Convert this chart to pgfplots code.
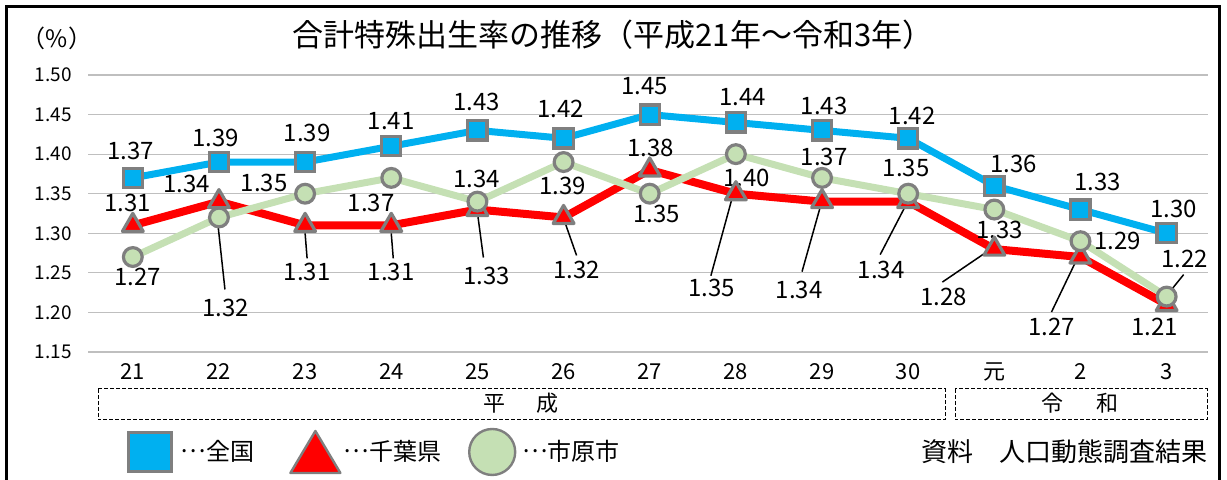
\documentclass[border=0pt]{standalone}
\usepackage{fontspec}
\setmainfont{Noto Sans CJK JP}
\usepackage{pgfplots}
\pgfplotsset{compat=1.18}

\definecolor{zenkoku}{HTML}{00B0F0}
\definecolor{chiba}{HTML}{FF0000}
\definecolor{ichihara}{HTML}{C5E0B4}
\definecolor{mk}{HTML}{7F7F7F}
\definecolor{gridc}{HTML}{BFBFBF}

% data label and leader line, offsets in pt from the data point
\newcommand{\lab}[5]{\node[lbl] at ([shift={(#3pt,#4pt)}]axis cs:#1,#2) {#5};}
\newcommand{\ldr}[6]{\draw[black,line width=0.75pt] ([shift={(#3pt,#4pt)}]axis cs:#1,#2) -- ([shift={(#5pt,#6pt)}]axis cs:#1,#2);}
\newcommand{\mdots}{\raisebox{0.32em}{…}}

\begin{document}
\begin{tikzpicture}
\useasboundingbox (-44pt,-64pt) rectangle (569.5pt,176pt);
\tikzset{lbl/.style={inner sep=0pt,font=\fontsize{12}{12}\selectfont}}
\begin{axis}[
  width=560pt, height=138.5pt, scale only axis,
  at={(0pt,0pt)}, anchor=south west,
  clip=false,
  xmin=-0.52, xmax=12.48, ymin=1.15, ymax=1.50,
  xtick={0,...,12},
  xticklabels={21,22,23,24,25,26,27,28,29,30,元,2,3},
  ytick={1.15,1.20,1.25,1.30,1.35,1.40,1.45,1.50},
  yticklabels={1.15,1.20,1.25,1.30,1.35,1.40,1.45,1.50},
  ymajorgrids, major grid style={gridc,line width=0.6pt},
  axis line style={draw=none}, major tick length=0pt,
  xticklabel style={font=\fontsize{11}{11}\selectfont,inner sep=0pt,anchor=base,yshift=-14pt},
  yticklabel style={font=\fontsize{9.5}{9.5}\selectfont,inner sep=0pt,anchor=east,xshift=-8pt},
  legend columns=3,
  legend style={at={(0.0348,-0.361)}, anchor=west, draw=none, fill=none,
    inner sep=0pt, font=\fontsize{12}{12}\selectfont,
    nodes={inner sep=0pt},
    /tikz/column 1/.style={column sep=4pt},
    /tikz/column 2/.style={column sep=17.5pt},
    /tikz/column 3/.style={column sep=1pt},
    /tikz/column 4/.style={column sep=13.5pt},
    /tikz/column 5/.style={column sep=3pt}},
]
\addplot[zenkoku, line width=3.5pt, mark=square*,
  mark options={draw=mk, fill=zenkoku, line width=1.6pt, solid}, mark size=4.8pt,
  legend image code/.code={\draw[fill=zenkoku,draw=mk,line width=1.2pt] (0pt,-9.75pt) rectangle (21.5pt,9.75pt);}]
  coordinates {(0,1.37)(1,1.39)(2,1.39)(3,1.41)(4,1.43)(5,1.42)(6,1.45)(7,1.44)(8,1.43)(9,1.42)(10,1.36)(11,1.33)(12,1.30)};
\addlegendentry{\mdots 全国}
\addplot[chiba, line width=4pt, mark=triangle*,
  mark options={draw=mk, fill=chiba, line width=1.6pt, line join=round, solid}, mark size=6pt,
  legend image code/.code={\draw[fill=chiba,draw=mk,line width=1.2pt,line join=round] (0pt,-10.5pt) -- (25pt,-10.5pt) -- (12.5pt,10.5pt) -- cycle;}]
  coordinates {(0,1.31)(1,1.34)(2,1.31)(3,1.31)(4,1.33)(5,1.32)(6,1.38)(7,1.35)(8,1.34)(9,1.34)(10,1.28)(11,1.27)(12,1.21)};
\addlegendentry{\mdots 千葉県}
\addplot[ichihara, line width=3.5pt, mark=*,
  mark options={draw=mk, fill=ichihara, line width=1.6pt, solid}, mark size=4.7pt,
  legend image code/.code={\draw[fill=ichihara,draw=mk,line width=1.2pt] (12pt,0pt) circle (11.5pt);}]
  coordinates {(0,1.27)(1,1.32)(2,1.35)(3,1.37)(4,1.34)(5,1.39)(6,1.35)(7,1.40)(8,1.37)(9,1.35)(10,1.33)(11,1.29)(12,1.22)};
\addlegendentry{\mdots 市原市}

% 全国
\lab{0}{1.37}{-1}{13.5}{1.37}
\lab{1}{1.39}{-1.5}{12}{1.39}
\lab{2}{1.39}{1}{14.5}{1.39}
\lab{3}{1.41}{0}{12.5}{1.41}
\lab{4}{1.43}{-0.5}{14}{1.43}
\lab{5}{1.42}{-1.5}{14.5}{1.42}
\lab{6}{1.45}{-2.5}{14}{1.45}
\lab{7}{1.44}{3.5}{12.5}{1.44}
\lab{8}{1.43}{1}{12}{1.43}
\lab{9}{1.42}{2}{11}{1.42}
\lab{10}{1.36}{9.5}{11}{1.36}
\lab{11}{1.33}{8.5}{14}{1.33}
\lab{12}{1.30}{3.5}{12}{1.30}
% 千葉県
\lab{0}{1.31}{-2.5}{11}{1.31}
\lab{1}{1.34}{-16}{9}{1.34}
\ldr{2}{1.31}{0}{-4}{1}{-16.5}\lab{2}{1.31}{1}{-23.5}{1.31}
\ldr{3}{1.31}{0}{-4}{1}{-16.5}\lab{3}{1.31}{0}{-23.5}{1.31}
\ldr{4}{1.33}{0}{-1.5}{3}{-24}\lab{4}{1.33}{4.5}{-33}{1.33}
\ldr{5}{1.32}{0}{-0.5}{6.5}{-19}\lab{5}{1.32}{6.5}{-26}{1.32}
\lab{6}{1.38}{0.5}{11}{1.38}
\ldr{7}{1.35}{-1}{1}{-12.5}{-41}\lab{7}{1.35}{-12}{-47}{1.35}
\ldr{8}{1.34}{0}{0.5}{-10}{-35}\lab{8}{1.34}{-11.5}{-44}{1.34}
\ldr{9}{1.34}{-0.5}{-0.5}{-14}{-26.5}\lab{9}{1.34}{-13.5}{-34}{1.34}
\ldr{10}{1.28}{-1}{0.5}{-26}{-16.5}\lab{10}{1.28}{-25.5}{-24}{1.28}
\ldr{11}{1.27}{-2}{-1.5}{-14.5}{-27.5}\lab{11}{1.27}{-14.5}{-35}{1.27}
\lab{12}{1.21}{-6}{-11.25}{1.21}
% 市原市
\lab{0}{1.27}{2.5}{-10}{1.27}
\ldr{1}{1.32}{-1}{1}{3}{-36}\lab{1}{1.32}{3.5}{-45}{1.32}
\lab{2}{1.35}{-20.5}{5.5}{1.35}
\lab{3}{1.37}{-10}{-12.5}{1.37}
\lab{4}{1.34}{-0.5}{11.5}{1.34}
\lab{5}{1.39}{-0.5}{-12}{1.39}
\lab{6}{1.35}{3.5}{-10}{1.35}
\lab{7}{1.40}{5.5}{-12}{1.40}
\lab{8}{1.37}{1}{10.5}{1.37}
\lab{9}{1.35}{-1}{13}{1.35}
\lab{10}{1.33}{2.5}{-10}{1.33}
\lab{11}{1.29}{18.5}{0}{1.29}
\ldr{12}{1.22}{0}{0.5}{8.5}{11}\lab{12}{1.22}{9}{19}{1.22}
\end{axis}

% title, unit, era boxes, source, frame
\node[font=\fontsize{15.5}{15.5}\selectfont] at (262.5pt,158.5pt) {合計特殊出生率の推移（平成21年～令和3年）};
\node[font=\fontsize{12}{12}\selectfont] at (-15.5pt,157pt) {（\%）};
\draw[line width=0.5pt,dash pattern=on 2pt off 1pt] (5pt,-18.5pt) rectangle (428.5pt,-34pt);
\draw[line width=0.5pt,dash pattern=on 2pt off 1pt] (433.5pt,-18.5pt) rectangle (559.5pt,-34pt);
\node[font=\fontsize{11}{11}\selectfont] at (216.5pt,-25.5pt) {平\hspace{15.5pt}成};
\node[font=\fontsize{11}{11}\selectfont] at (496pt,-25.5pt) {令\hspace{17pt}和};
\node[font=\fontsize{13}{13}\selectfont,anchor=east,inner sep=0pt] at (560pt,-50pt) {資料　人口動態調査結果};
\draw[line width=1.5pt] (-40.75pt,-80pt) -- (-40.75pt,172.75pt) -- (565.75pt,172.75pt) -- (565.75pt,-80pt);
\end{tikzpicture}
\end{document}
